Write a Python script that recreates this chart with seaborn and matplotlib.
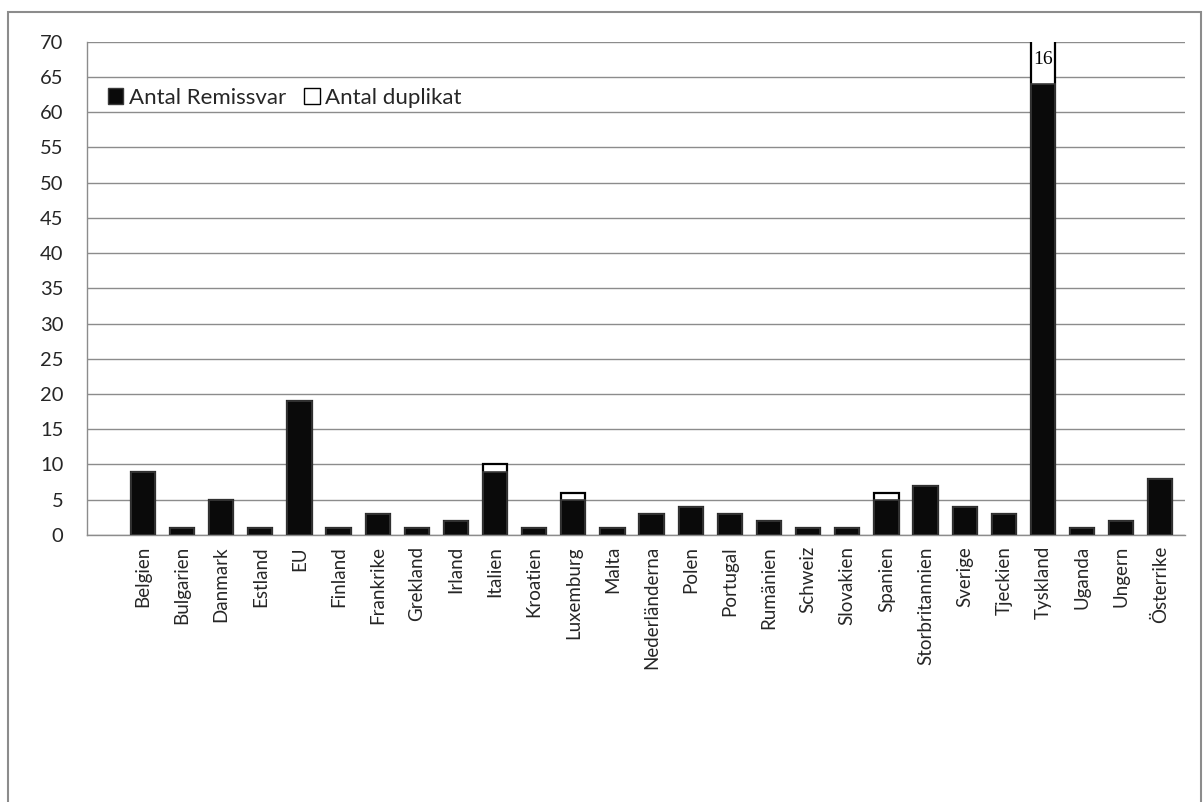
import matplotlib
matplotlib.use("Agg")
import matplotlib.pyplot as plt
import seaborn as sns
import pandas as pd
from matplotlib.patches import Rectangle, Patch

countries = ["Belgien", "Bulgarien", "Danmark", "Estland", "EU", "Finland", "Frankrike",
             "Grekland", "Irland", "Italien", "Kroatien", "Luxemburg", "Malta",
             "Nederländerna", "Polen", "Portugal", "Rumänien", "Schweiz", "Slovakien",
             "Spanien", "Storbritannien", "Sverige", "Tjeckien", "Tyskland", "Uganda",
             "Ungern", "Österrike"]
remissvar = [9, 1, 5, 1, 19, 1, 3, 1, 2, 9, 1, 5, 1, 3, 4, 3, 2, 1, 1, 5, 7, 4, 3, 64, 1, 2, 8]
duplikat = [0, 0, 0, 0, 0, 0, 0, 0, 0, 1, 0, 1, 0, 0, 0, 0, 0, 0, 0, 1, 0, 0, 0, 16, 0, 0, 0]
yticks = list(range(0, 75, 5))

df = pd.DataFrame({"land": countries, "remissvar": remissvar, "duplikat": duplikat})
df["total"] = df["remissvar"] + df["duplikat"]

sns.set_theme(style="white")
plt.rcParams["font.family"] = ["Lato", "DejaVu Sans"]

fig = plt.figure(figsize=(12.03, 8.02), dpi=100)
ax = fig.add_axes([0.0723, 0.333, 0.9127, 0.615])

# outer chart frame
fig.patches.append(Rectangle((0.007, -0.01), 0.991, 0.995, transform=fig.transFigure,
                             fill=False, edgecolor="#8c8c8c", linewidth=1.5, zorder=0))

# stacked bars: the total (white duplicates on top) drawn first, answers over it
sns.barplot(data=df, x="land", y="total", color="white", edgecolor="black",
            linewidth=1.6, width=0.62, saturation=1, ax=ax, zorder=2)
sns.barplot(data=df, x="land", y="remissvar", color="#0a0a0a", edgecolor="#3a3a3a",
            linewidth=1.2, width=0.62, saturation=1, ax=ax, zorder=3)

ax.set_ylim(0, 70)
ax.set_xlim(-1.43, len(countries) - 0.37)
ax.set_yticks(yticks)
ax.set_yticklabels([str(v) for v in yticks], fontsize=14.5)
ax.tick_params(axis="y", length=0, pad=17)
ax.tick_params(axis="x", length=0, pad=8)
ax.set_xticks(range(len(countries)))
ax.set_xticklabels(countries, rotation=90, fontsize=13.5)
ax.set_xlabel("")
ax.set_ylabel("")
ax.yaxis.grid(True, color="#8c8c8c", linewidth=1.0, zorder=0)
ax.set_axisbelow(True)
for side in ["top", "right"]:
    ax.spines[side].set_visible(False)
for side in ["left", "bottom"]:
    ax.spines[side].set_color("#8c8c8c")
    ax.spines[side].set_linewidth(1.0)

# value label on the clipped duplicate segment
i = countries.index("Tyskland")
ax.text(i, (remissvar[i] + 70) / 2 + 0.5, str(duplikat[i]), ha="center", va="center",
        fontsize=14, family="Liberation Serif", color="black", zorder=5)

handles = [Patch(facecolor="#0a0a0a", edgecolor="#3a3a3a", label="Antal Remissvar"),
           Patch(facecolor="white", edgecolor="black", label="Antal duplikat")]
ax.legend(handles=handles, loc="upper left", bbox_to_anchor=(0.011, 0.925), ncol=2,
          frameon=False, fontsize=16, handlelength=0.7, handleheight=0.7,
          handletextpad=0.25, columnspacing=0.8, borderaxespad=0)

fig.savefig("out.png", dpi=100, facecolor="white")
